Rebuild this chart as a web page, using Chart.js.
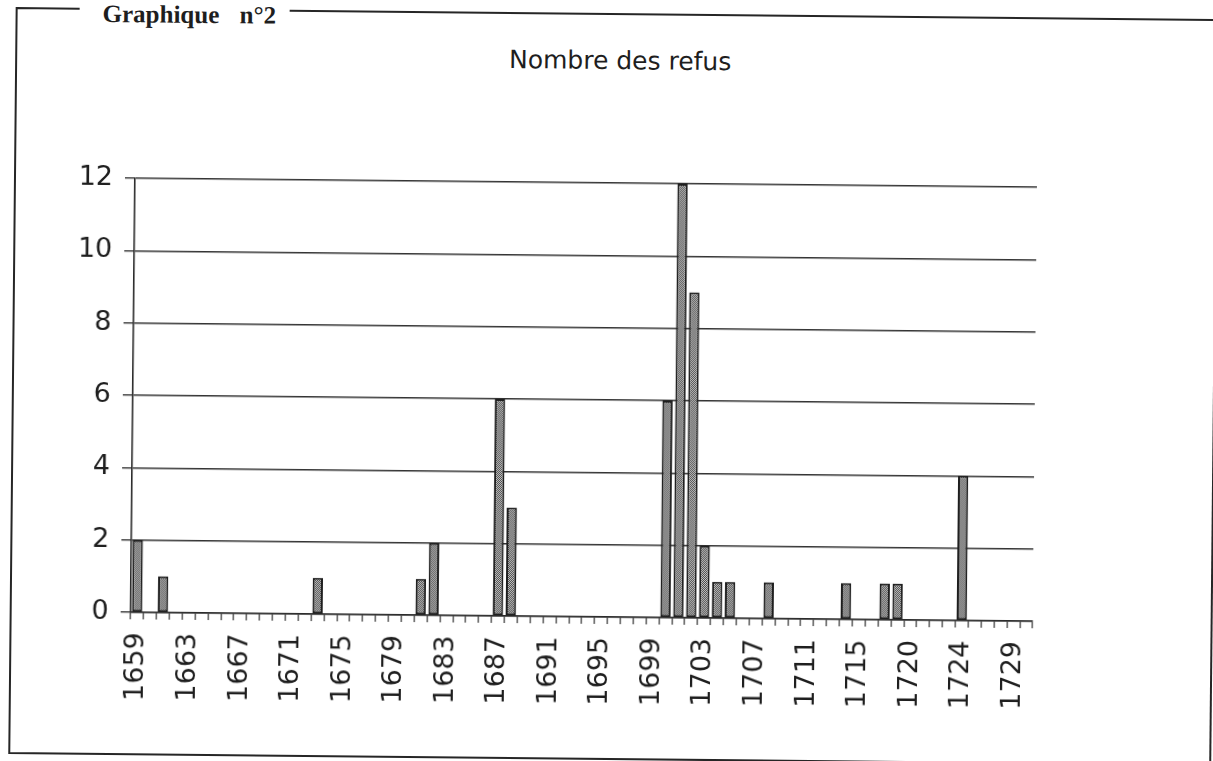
<!DOCTYPE html>
<html>
<head>
<meta charset="utf-8">
<script src="https://cdn.jsdelivr.net/npm/chart.js@4.4.1/dist/chart.umd.min.js"></script>
<style>
    html, body { margin: 0; padding: 0; background: #fff; overflow: hidden; }
    #sheet { position: relative; width: 1213px; height: 761px; transform: rotate(0.57deg); transform-origin: 606px 380px; }
    #frame { position: absolute; left: 0; top: 0; overflow: visible; }
    #chart { position: absolute; left: 0; top: 0; }
    .head { position: absolute; left: 99px; top: 6px; font: bold 25px/25px "Liberation Serif", serif; color: #1e1e1e; word-spacing: 14px; white-space: nowrap; }
    .title { position: absolute; left: 0; width: 1234px; top: 48px; text-align: center; font: 25px/25px "DejaVu Sans", sans-serif; color: #1e1e1e; }
</style>
</head>
<body>
<div id="sheet">
    <svg id="frame" width="1230" height="780">
        <g stroke="#262626" stroke-width="2" fill="none">
            <polyline points="76,14 13,14 13,759 1216,759"/>
            <line x1="286" y1="14" x2="1216" y2="14"/>
            <line x1="1214" y1="14" x2="1214" y2="761"/>
        </g>
    </svg>
    <div class="head">Graphique n°2</div>
    <div class="title">Nombre des refus</div>
    <canvas id="chart" width="1213" height="761"></canvas>
</div>
<script>
// years on the category axis (some years are absent from the series)
const years = [
    '1659', '1660', '1661', '1662', '1663', '1664', '1665', '1666', '1667', '1668',
    '1669', '1670', '1671', '1672', '1673', '1674', '1675', '1676', '1677', '1678',
    '1679', '1680', '1681', '1682', '1683', '1684', '1685', '1686', '1687', '1688',
    '1689', '1690', '1691', '1692', '1693', '1694', '1695', '1696', '1697', '1698',
    '1699', '1700', '1701', '1702', '1703', '1704', '1705', '1706', '1707', '1708',
    '1709', '1710', '1711', '1712', '1713', '1714', '1715', '1717', '1718', '1719',
    '1720', '1721', '1722', '1723', '1724', '1725', '1726', '1727', '1729', '1730'
];

// number of refusals per year
const refusals = [
    2, 0, 1, 0, 0, 0, 0, 0, 0, 0,
    0, 0, 0, 0, 1, 0, 0, 0, 0, 0,
    0, 0, 1, 2, 0, 0, 0, 0, 6, 3,
    0, 0, 0, 0, 0, 0, 0, 0, 0, 0,
    0, 6, 12, 9, 2, 1, 1, 0, 0, 1,
    0, 0, 0, 0, 0, 1, 0, 0, 1, 1,
    0, 0, 0, 0, 4, 0, 0, 0, 0, 0
];

// year labels actually printed under the axis
const shownYears = [
    '1659', '1663', '1667', '1671', '1675', '1679', '1683', '1687', '1691',
    '1695', '1699', '1703', '1707', '1711', '1715', '1720', '1724', '1729'
];

const yMin = 0;
const yMax = 12;
const yStep = 2;

// stippled grey fill like the printed bars
function stipple() {
    const c = document.createElement('canvas');
    c.width = 2; c.height = 2;
    const g = c.getContext('2d');
    g.fillStyle = '#c6c6c6';
    g.fillRect(0, 0, 2, 2);
    g.fillStyle = '#4a4a4a';
    g.fillRect(0, 0, 1, 1);
    g.fillRect(1, 1, 1, 1);
    return g.createPattern(c, 'repeat');
}

const axisFont = { family: 'DejaVu Sans', size: 27 };

new Chart(document.getElementById('chart'), {
    type: 'bar',
    data: {
        labels: years,
        datasets: [{
            label: 'Refus',
            data: refusals,
            backgroundColor: stipple(),
            borderColor: '#1e1e1e',
            borderWidth: (c) => c.raw ? 2 : 0,
            borderSkipped: false,
            barPercentage: 0.8,
            categoryPercentage: 1
        }]
    },
    options: {
        responsive: false,
        animation: false,
        devicePixelRatio: 1,
        layout: { padding: { top: 183, right: 178, left: 0, bottom: 0 } },
        plugins: { legend: { display: false }, tooltip: { enabled: false } },
        scales: {
            x: {
                grid: { offset: true, drawOnChartArea: false, tickLength: 7, color: '#333', lineWidth: 1.2 },
                border: { color: '#2a2a2a', width: 1.6 },
                ticks: {
                    autoSkip: false,
                    minRotation: 90,
                    maxRotation: 90,
                    padding: 13,
                    color: '#1e1e1e',
                    font: axisFont,
                    callback: (v, i) => shownYears.includes(years[i]) ? years[i] : ''
                },
                afterFit: (s) => { s.height = 144; }
            },
            y: {
                min: yMin,
                max: yMax,
                ticks: { stepSize: yStep, padding: 12, color: '#1e1e1e', font: axisFont },
                grid: { color: '#333', lineWidth: 1.4, tickLength: 10 },
                border: { color: '#2a2a2a', width: 1.6 },
                afterFit: (s) => { s.width = 133; }
            }
        }
    }
});
</script>
</body>
</html>
